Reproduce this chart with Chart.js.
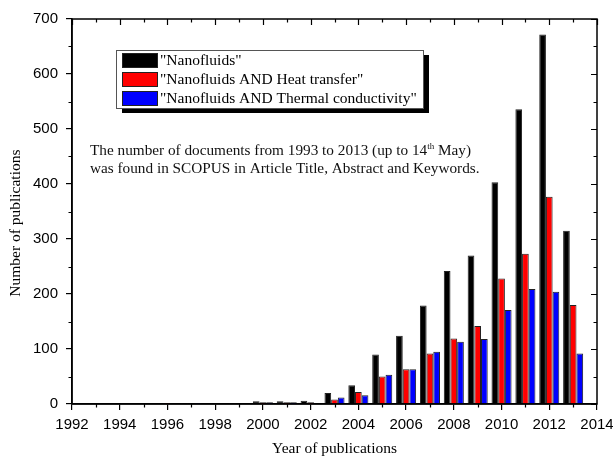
<!DOCTYPE html>
<html>
<head>
<meta charset="utf-8">
<script src="https://cdn.jsdelivr.net/npm/chart.js@4.4.0/dist/chart.umd.min.js"></script>
<style>
  html, body { margin: 0; padding: 0; background: #fff; }
  canvas { display: block; }
</style>
</head>
<body>
<canvas id="pubChart" width="613" height="458"></canvas>
<script>
// values
const years = [1993, 1994, 1995, 1996, 1997, 1998, 1999, 2000, 2001, 2002, 2003,
               2004, 2005, 2006, 2007, 2008, 2009, 2010, 2011, 2012, 2013];
const nanofluids = [1, 0, 1, 2, 2, 0, 2, 5, 5, 6, 20, 34, 90, 124, 179, 242, 270, 403, 536, 672, 315];
const heatTransfer = [0, 0, 1, 2, 0, 0, 1, 3, 3, 3, 8, 22, 50, 63, 92, 119, 142, 228, 273, 377, 180];
const thermalConductivity = [0, 0, 1, 1, 2, 0, 1, 3, 3, 1, 12, 16, 53, 63, 95, 113, 118, 171, 209, 204, 92];

const seriesNames = ['"Nanofluids"', '"Nanofluids AND Heat transfer"', '"Nanofluids AND Thermal conductivity"'];
const seriesColors = ['#000000', '#ff0000', '#0000ff'];

const xTickValues = [1992, 1994, 1996, 1998, 2000, 2002, 2004, 2006, 2008, 2010, 2012, 2014];
const yTickValues = [0, 100, 200, 300, 400, 500, 600, 700];

const noteLine1 = ['The number of documents from 1993 to 2013 (up to 14', 'th', ' May)'];
const noteLine2 = 'was found in SCOPUS in Article Title, Abstract and Keywords.';

const serif = "'Liberation Serif', 'Times New Roman', serif";
const sans = "'Liberation Sans', Arial, sans-serif";

// frame, minor ticks, boxed legend and the note text
const extras = {
  id: 'extras',
  afterDraw(chart) {
    const { ctx, chartArea: a, scales: { x, y } } = chart;
    ctx.save();
    ctx.strokeStyle = '#000';
    ctx.lineWidth = 1.5;
    ctx.strokeRect(a.left, a.top, a.right - a.left, a.bottom - a.top);

    ctx.lineWidth = 1.2;
    ctx.beginPath();
    for (let v = xTickValues[0]; v <= xTickValues[xTickValues.length - 1]; v++) {
      const px = Math.round(x.getPixelForValue(v)) + 0.5;
      const major = v % 2 === 0;
      const len = major ? 6 : 3.5;
      ctx.moveTo(px, a.top); ctx.lineTo(px, a.top + len);
      if (!major) { ctx.moveTo(px, a.bottom); ctx.lineTo(px, a.bottom + len); }
    }
    for (let v = 0; v <= 700; v += 50) {
      const py = Math.round(y.getPixelForValue(v)) + 0.5;
      const major = v % 100 === 0;
      const len = major ? 6 : 3.5;
      ctx.moveTo(a.right, py); ctx.lineTo(a.right - len, py);
      if (!major) { ctx.moveTo(a.left, py); ctx.lineTo(a.left - len, py); }
    }
    ctx.stroke();

    // legend box with drop shadow
    const bx = 116, by = 50, bw = 307, bh = 58;
    ctx.fillStyle = '#000';
    ctx.fillRect(bx + 6, by + 5, bw, bh);
    ctx.fillStyle = '#fff';
    ctx.fillRect(bx, by, bw, bh);
    ctx.strokeStyle = '#555';
    ctx.lineWidth = 1;
    ctx.strokeRect(bx + 0.5, by + 0.5, bw, bh);

    ctx.font = '15.5px ' + serif;
    ctx.textBaseline = 'middle';
    chart.data.datasets.forEach((ds, i) => {
      const sy = by + 3 + i * 19;
      ctx.fillStyle = ds.backgroundColor;
      ctx.fillRect(bx + 6, sy, 35, 14);
      ctx.strokeStyle = '#222';
      ctx.strokeRect(bx + 6.5, sy + 0.5, 35, 14);
      ctx.fillStyle = '#000';
      ctx.fillText(ds.label, bx + 44, sy + 8);
    });

    // note text
    ctx.textBaseline = 'alphabetic';
    ctx.fillStyle = '#111';
    let tx = 90;
    ctx.font = '15.25px ' + serif;
    ctx.fillText(noteLine1[0], tx, 155);
    tx += ctx.measureText(noteLine1[0]).width;
    ctx.font = '9px ' + serif;
    ctx.fillText(noteLine1[1], tx, 149);
    tx += ctx.measureText(noteLine1[1]).width;
    ctx.font = '15.25px ' + serif;
    ctx.fillText(noteLine1[2], tx, 155);
    ctx.fillText(noteLine2, 90, 173);
    ctx.restore();
  }
};

const ctx = document.getElementById('pubChart').getContext('2d');
const pubChart = new Chart(ctx, {
  type: 'bar',
  data: {
    labels: years,
    datasets: [
      { label: seriesNames[0], data: nanofluids, backgroundColor: seriesColors[0] },
      { label: seriesNames[1], data: heatTransfer, backgroundColor: seriesColors[1] },
      { label: seriesNames[2], data: thermalConductivity, backgroundColor: seriesColors[2] }
    ]
  },
  options: {
    responsive: false,
    animation: false,
    layout: { padding: { top: 19, right: 16, left: 0, bottom: 0 } },
    datasets: {
      bar: {
        borderColor: '#222',
        borderWidth: 1,
        categoryPercentage: 0.84,
        barPercentage: 1.0
      }
    },
    plugins: {
      legend: { display: false },
      tooltip: { enabled: false }
    },
    scales: {
      x: {
        type: 'linear',
        min: 1992,
        max: 2014,
        offset: false,
        afterBuildTicks: s => { s.ticks = xTickValues.map(v => ({ value: v })); },
        afterFit: s => { s.height = 54; s.paddingLeft = 0; s.paddingRight = 0; },
        grid: { offset: false, drawOnChartArea: false, tickLength: 6, color: '#000', lineWidth: 1.2 },
        border: { color: '#000', width: 1.5 },
        ticks: {
          padding: 6,
          color: '#000',
          maxRotation: 0,
          autoSkip: false,
          font: { family: sans, size: 15 },
          callback: v => String(v)
        },
        title: {
          display: true,
          text: 'Year of publications',
          color: '#000',
          font: { family: serif, size: 15.5 },
          padding: { top: 0, bottom: 0 }
        }
      },
      y: {
        min: 0,
        max: 700,
        afterBuildTicks: s => { s.ticks = yTickValues.map(v => ({ value: v })); },
        afterFit: s => { s.width = 72; },
        grid: { drawOnChartArea: false, tickLength: 6, color: '#000', lineWidth: 1.2 },
        border: { color: '#000', width: 1.5 },
        ticks: {
          padding: 8,
          color: '#000',
          font: { family: sans, size: 15 }
        },
        title: {
          display: true,
          text: 'Number of publications      ',
          color: '#000',
          font: { family: serif, size: 15.5 },
          padding: { top: 7, bottom: 0 }
        }
      }
    }
  },
  plugins: [extras]
});
</script>
</body>
</html>
